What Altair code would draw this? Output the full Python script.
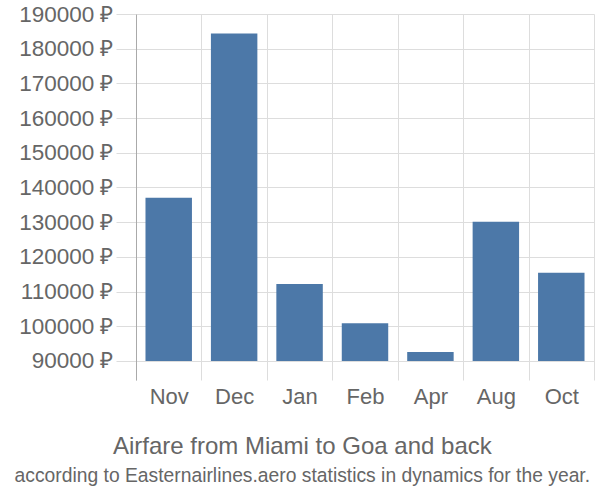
import altair as alt
import pandas as pd

months = ["Nov", "Dec", "Jan", "Feb", "Apr", "Aug", "Oct"]
prices = [137000, 184400, 112200, 100860, 92600, 130100, 115400]
y_ticks = [90000, 100000, 110000, 120000, 130000, 140000, 150000, 160000, 170000, 180000, 190000]

df = pd.DataFrame({"month": months, "price": prices})

FONT = "Liberation Sans"
GREY = "#666666"

chart = (
    alt.Chart(df)
    .mark_bar(color="#4c78a8", width=alt.RelativeBandSize(0.71))
    .encode(
        x=alt.X(
            "month:N",
            sort=months,
            title=None,
            scale=alt.Scale(paddingInner=0, paddingOuter=0),
            axis=alt.Axis(
                domain=False,
                ticks=False,
                grid=True,
                gridColor="#dddddd",
                tickBand="extent",
                labelAngle=0,
                labelFont=FONT,
                labelFontSize=22,
                labelColor=GREY,
                labelPadding=6,
            ),
        ),
        y=alt.Y(
            "price:Q",
            title=None,
            scale=alt.Scale(domain=[84500, 190000], nice=False, zero=False),
            axis=alt.Axis(
                values=y_ticks,
                labelExpr="datum.value + ' ₽'",
                domain=True,
                domainColor="#aaaaaa",
                ticks=True,
                tickSize=20,
                tickColor="#dddddd",
                grid=True,
                gridColor="#dddddd",
                labelFont=FONT,
                labelFontSize=22.5,
                labelColor=GREY,
                labelPadding=3,
            ),
        ),
        y2=alt.datum(90000),
    )
    .properties(
        width=458,
        height=366,
        autosize=alt.AutoSizeParams(type="none"),
        padding={"left": 136, "top": 14, "right": 6, "bottom": 120},
        title=alt.TitleParams(
            text="Airfare from Miami to Goa and back",
            subtitle="according to Easternairlines.aero statistics in dynamics for the year.",
            orient="bottom",
            anchor="middle",
            frame="bounds",
            dx=-4,
            font=FONT,
            fontSize=24,
            fontWeight="normal",
            color=GREY,
            subtitleFont=FONT,
            subtitleFontSize=19.3,
            subtitleColor=GREY,
            offset=28,
            subtitlePadding=8,
        ),
    )
    .configure_view(stroke=None)
)

chart.save("out.html", embed_options={"renderer": "svg", "actions": False})
